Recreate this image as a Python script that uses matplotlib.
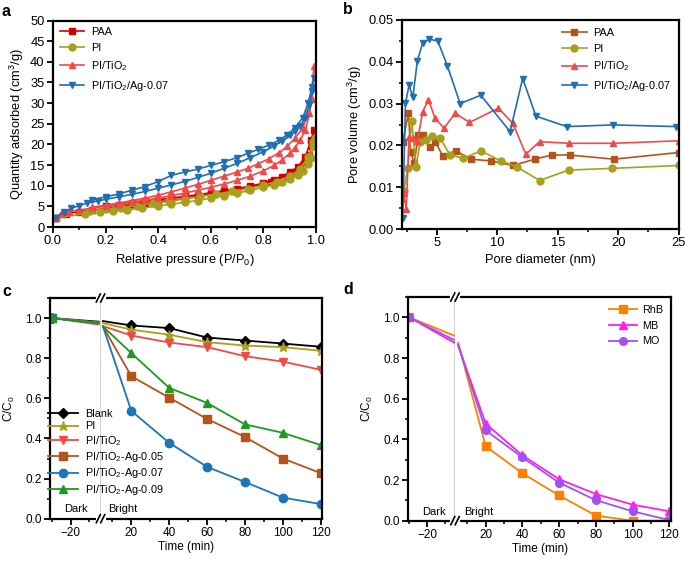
import matplotlib
matplotlib.use('Agg')
import matplotlib.pyplot as plt
from matplotlib.ticker import MultipleLocator, FormatStrFormatter
from matplotlib.lines import Line2D

plt.rcParams['font.family'] = ['Liberation Sans', 'DejaVu Sans']
plt.rcParams['mathtext.fontset'] = 'custom'
plt.rcParams['mathtext.rm'] = 'Liberation Sans'
plt.rcParams['mathtext.it'] = 'Liberation Sans:italic'
plt.rcParams['mathtext.bf'] = 'Liberation Sans:bold'

# ---------------- data: panel a (N2 isotherms, adsorption then desorption) ----------
paa_p = [0.01, 0.05, 0.1, 0.15, 0.2, 0.25, 0.3, 0.35, 0.4, 0.45, 0.5, 0.55, 0.6, 0.65, 0.7, 0.75, 0.8, 0.83,
         0.86, 0.89, 0.92, 0.94, 0.96, 0.975, 0.985, 0.993,
         0.98, 0.96, 0.93, 0.9, 0.87, 0.84, 0.8, 0.75, 0.7, 0.65, 0.6, 0.55, 0.5, 0.45, 0.4, 0.35, 0.3, 0.25, 0.2]
paa_v = [2.3, 3.2, 3.7, 4.1, 4.5, 4.9, 5.3, 5.7, 6.1, 6.5, 6.9, 7.4, 7.9, 8.4, 9.0, 9.6, 10.3, 10.8,
         11.4, 12.2, 13.2, 14.2, 15.8, 17.5, 19.5, 23.5,
         21.0, 17.0, 14.5, 13.2, 12.2, 11.4, 10.6, 9.9, 9.3, 8.8, 8.3, 7.8, 7.4, 7.0, 6.6, 6.2, 5.8, 5.4, 5.0]
pi_p = [0.01, 0.12, 0.18, 0.23, 0.28, 0.34, 0.4, 0.45, 0.5, 0.55, 0.6, 0.65, 0.7, 0.75, 0.8, 0.84, 0.87,
        0.9, 0.93, 0.95, 0.97, 0.98, 0.99, 0.995,
        0.99, 0.97, 0.94, 0.9, 0.85, 0.8, 0.74, 0.68, 0.62, 0.56, 0.5, 0.44, 0.38, 0.32, 0.26, 0.2, 0.14]
pi_v = [2.2, 3.2, 3.6, 3.9, 4.2, 4.6, 5.1, 5.5, 6.0, 6.4, 7.0, 7.6, 8.2, 8.9, 9.6, 10.2, 10.8,
        11.6, 12.6, 13.6, 15.3, 16.8, 19.5, 21.5,
        20.5, 17.0, 14.0, 12.3, 11.0, 10.1, 9.3, 8.6, 8.0, 7.4, 6.8, 6.2, 5.7, 5.2, 4.7, 4.3, 3.9]
tio2_p = [0.01, 0.03, 0.06, 0.1, 0.15, 0.2, 0.25, 0.3, 0.35, 0.4, 0.45, 0.5, 0.55, 0.6, 0.65, 0.7, 0.75, 0.8,
          0.84, 0.87, 0.9, 0.92, 0.94, 0.96, 0.975, 0.985, 0.993,
          0.985, 0.97, 0.95, 0.92, 0.89, 0.86, 0.82, 0.78, 0.74, 0.7, 0.65, 0.6, 0.55, 0.5, 0.45, 0.4, 0.35,
          0.3, 0.25, 0.2, 0.15]
tio2_v = [2.2, 3.2, 3.7, 4.1, 4.6, 5.0, 5.5, 6.0, 6.5, 7.0, 7.6, 8.2, 8.9, 9.6, 10.4, 11.3, 12.3, 13.6,
          14.9, 16.2, 17.8, 19.2, 21.0, 23.5, 27.5, 31.0, 39.0,
          34.0, 28.0, 24.0, 21.5, 19.5, 18.0, 16.5, 15.3, 14.2, 13.3, 12.3, 11.3, 10.3, 9.4, 8.5, 7.7, 7.0,
          6.4, 5.8, 5.3, 4.8]
ag_p = [0.01, 0.04, 0.07, 0.1, 0.13, 0.17, 0.2, 0.25, 0.3, 0.35, 0.4, 0.45, 0.5, 0.55, 0.6, 0.65, 0.7, 0.75,
        0.8, 0.84, 0.87, 0.9, 0.92, 0.94, 0.96, 0.975, 0.985, 0.993,
        0.985, 0.97, 0.95, 0.92, 0.89, 0.86, 0.82, 0.78, 0.74, 0.7, 0.65, 0.6, 0.55, 0.5, 0.45, 0.4, 0.35,
        0.3, 0.25, 0.2, 0.15]
ag_v = [2.3, 3.7, 4.5, 5.2, 5.8, 6.3, 6.7, 7.3, 7.9, 8.6, 9.4, 10.2, 11.0, 12.0, 13.0, 14.2, 15.4, 16.8,
        18.2, 19.6, 20.8, 22.2, 23.3, 24.5, 26.5, 29.5, 33.0, 36.0,
        34.0, 30.0, 26.5, 24.0, 22.3, 21.0, 19.8, 18.8, 17.8, 16.8, 15.8, 14.9, 14.0, 13.3, 12.5, 11.0, 9.8,
        8.9, 8.0, 7.3, 6.6]

# ---------------- data: panel b (pore size distribution) ----------------
paa_d = [2.19, 2.66, 2.85, 3.13, 3.48, 3.9, 4.45, 4.86, 5.5, 6.6, 7.8, 9.46, 11.3, 13.1, 14.5, 16.0, 19.65, 25.0]
paa_pv = [0.0209, 0.0277, 0.0185, 0.0157, 0.0226, 0.0225, 0.0195, 0.0209, 0.0175, 0.0187, 0.0167, 0.0163,
          0.0152, 0.0167, 0.0177, 0.0177, 0.0167, 0.0183]
pi_d = [2.25, 2.6, 2.93, 3.29, 3.62, 4.12, 4.64, 5.28, 6.1, 7.2, 8.64, 10.29, 11.6, 13.5, 15.9, 19.46, 25.0]
pi_pv = [0.009, 0.0145, 0.0259, 0.0149, 0.0209, 0.0213, 0.0222, 0.0217, 0.0177, 0.0169, 0.0187, 0.0163,
         0.0149, 0.0116, 0.0141, 0.0145, 0.0152]
tio2_d = [2.25, 2.47, 2.71, 3.02, 3.4, 3.84, 4.31, 4.86, 5.6, 6.52, 7.7, 10.1, 11.28, 12.36, 13.5, 15.96,
          19.6, 25.0]
tio2_pv = [0.0085, 0.0049, 0.0219, 0.0217, 0.0211, 0.0281, 0.0309, 0.0265, 0.0241, 0.0277, 0.0255, 0.0289,
           0.0253, 0.0179, 0.0209, 0.0205, 0.0205, 0.0211]
ag_d = [2.19, 2.41, 2.71, 3.02, 3.4, 3.84, 4.39, 5.08, 5.88, 6.93, 8.64, 11.06, 12.1, 13.2, 15.74, 19.6, 24.8]
ag_pv = [0.0026, 0.0301, 0.0344, 0.0315, 0.0403, 0.0446, 0.0454, 0.045, 0.039, 0.030, 0.032, 0.0233, 0.036,
         0.027, 0.0245, 0.0249, 0.0245]

# ---------------- data: panel c / d (photocatalysis) ----------------
t_dark = [-30, -5]
t_bright = [5, 20, 40, 60, 80, 100, 120]
c_labels = ['Blank', 'PI', 'PI/TiO$_2$', 'PI/TiO$_2$-Ag-0.05', 'PI/TiO$_2$-Ag-0.07', 'PI/TiO$_2$-Ag-0.09']
c_dark = [[1.0, 0.982], [1.0, 0.978], [1.0, 0.968], [1.0, 0.975], [1.0, 0.973], [1.0, 0.975]]
c_bright = [[0.985, 0.963, 0.950, 0.903, 0.888, 0.873, 0.857],
            [0.975, 0.942, 0.917, 0.880, 0.863, 0.855, 0.837],
            [0.960, 0.913, 0.878, 0.855, 0.810, 0.783, 0.742],
            [0.958, 0.710, 0.603, 0.497, 0.407, 0.300, 0.227],
            [0.958, 0.537, 0.378, 0.258, 0.183, 0.105, 0.073],
            [0.958, 0.825, 0.652, 0.577, 0.470, 0.428, 0.367]]
d_labels = ['RhB', 'MB', 'MO']
d_dark = [[1.0, 0.91], [1.0, 0.876], [1.0, 0.889]]
d_bright = [[0.875, 0.366, 0.233, 0.124, 0.025, 0.0, 0.0],
            [0.862, 0.477, 0.321, 0.204, 0.131, 0.079, 0.046],
            [0.866, 0.444, 0.311, 0.187, 0.101, 0.046, 0.003]]

# ---------------- figure ----------------
W, H = 685, 564
fig = plt.figure(figsize=(W / 100, H / 100), dpi=100)


def rect(l, r, t, b):
    return [l / W, 1 - b / H, (r - l) / W, (b - t) / H]


def style(ax, fs):
    for s in ax.spines.values():
        s.set_linewidth(1.6)
    ax.tick_params(which='major', direction='out', length=4, width=1.3, labelsize=fs,
                   top=False, right=False, pad=2)
    ax.tick_params(which='minor', direction='out', length=2.5, width=1.1, top=False, right=False)


FS_AB = 9.3
FS_CD = 8.5
FS_LEG = 7.8
RED = '#d40000'
OLIVE = '#a8a01c'
LRED = '#f44848'
BLUE = '#1f6fb4'
BROWN = '#b5541a'

# ---- panel a ----
ax = fig.add_axes(rect(53, 316, 20.5, 227))
style(ax, FS_AB)
kw = dict(lw=1.2, ms=5)
ax.plot(paa_p, paa_v, color=RED, marker='s', label='PAA', **kw)
ax.plot(pi_p, pi_v, color=OLIVE, marker='o', label='PI', **kw)
ax.plot(tio2_p, tio2_v, color=LRED, marker='^', label='PI/TiO$_2$', **kw)
ax.plot(ag_p, ag_v, color=BLUE, marker='v', label='PI/TiO$_2$/Ag-0.07', **kw)
ax.set_xlim(0, 1.0)
ax.set_ylim(0, 50)
ax.xaxis.set_major_locator(MultipleLocator(0.2))
ax.xaxis.set_minor_locator(MultipleLocator(0.1))
ax.xaxis.set_major_formatter(FormatStrFormatter('%.1f'))
ax.yaxis.set_major_locator(MultipleLocator(5))
ax.set_xlabel('Relative pressure (P/P$_0$)', fontsize=FS_AB, labelpad=3)
ax.set_ylabel('Quantity adsorbed (cm$^3$/g)', fontsize=FS_AB, labelpad=3)
ax.legend(loc='upper left', frameon=False, fontsize=FS_LEG, handlelength=2.3, labelspacing=0.55,
          borderaxespad=0.2, handletextpad=0.6)

# ---- panel b ----
ax = fig.add_axes(rect(401.7, 678.7, 20, 229))
style(ax, FS_AB)
ax.plot(paa_d, paa_pv, color=BROWN, marker='s', label='PAA', **kw)
ax.plot(pi_d, pi_pv, color=OLIVE, marker='o', label='PI', **kw)
ax.plot(tio2_d, tio2_pv, color=LRED, marker='^', label='PI/TiO$_2$', **kw)
ax.plot(ag_d, ag_pv, color=BLUE, marker='v', label='PI/TiO$_2$/Ag-0.07', **kw)
ax.set_xlim(2.1, 25)
ax.set_ylim(0, 0.05)
ax.xaxis.set_major_locator(MultipleLocator(5))
ax.xaxis.set_minor_locator(MultipleLocator(2.5))
ax.yaxis.set_major_locator(MultipleLocator(0.01))
ax.yaxis.set_minor_locator(MultipleLocator(0.005))
ax.yaxis.set_major_formatter(FormatStrFormatter('%.2f'))
ax.set_xlabel('Pore diameter (nm)', fontsize=FS_AB, labelpad=3)
ax.set_ylabel('Pore volume (cm$^3$/g)', fontsize=FS_AB, labelpad=3)
ax.legend(loc='upper right', frameon=False, fontsize=FS_LEG, handlelength=2.3, labelspacing=0.55,
          borderaxespad=0.3, handletextpad=0.6)


# ---- broken-axis helper ----
def broken(l, brk, r, t, b, xl_left, xl_right):
    al = fig.add_axes(rect(l, brk, t, b))
    ar = fig.add_axes(rect(brk, r, t, b))
    for a in (al, ar):
        style(a, FS_CD)
        a.set_ylim(0, 1.1)
        a.yaxis.set_major_locator(MultipleLocator(0.2))
        a.yaxis.set_minor_locator(MultipleLocator(0.1))
        a.yaxis.set_major_formatter(FormatStrFormatter('%.1f'))
        a.xaxis.set_major_locator(MultipleLocator(20))
        a.xaxis.set_minor_locator(MultipleLocator(10))
    al.set_xlim(*xl_left)
    ar.set_xlim(*xl_right)
    al.spines['right'].set_visible(False)
    ar.spines['left'].set_visible(False)
    ar.tick_params(which='both', left=False, labelleft=False)
    # grey separator
    al.plot([1, 1], [0, 1], transform=al.transAxes, color='#c4c4c4', lw=1.8, clip_on=False, zorder=1)
    # break marks
    bx = brk / W
    for yy in (1 - t / H, 1 - b / H):
        fig.add_artist(Line2D([bx - 3 / W, bx + 3 / W], [yy, yy], color='white', lw=3,
                              transform=fig.transFigure, zorder=10))
        for dx in (-2.2, 2.2):
            fig.add_artist(Line2D([bx + (dx - 2) / W, bx + (dx + 2) / W], [yy - 4 / H, yy + 4 / H],
                                  color='black', lw=1.2, transform=fig.transFigure, zorder=11))
    al.set_ylabel('C/C$_0$', fontsize=FS_CD, labelpad=6)
    ar.set_xlabel('Time (min)', fontsize=FS_CD, labelpad=3)
    ar.xaxis.set_label_coords(((l + r) / 2 - brk) / (r - brk), -0.1)
    return al, ar


# ---- panel c ----
cl, cr = broken(50, 100.5, 321.7, 298, 518.7, (-31, -4), (3.7, 120.5))
c_cols = ['black', OLIVE, LRED, BROWN, '#1a75bb', '#1e9a1e']
c_marks = ['D', '*', 'v', 's', 'o', '^']
c_ms = [5, 6.5, 6, 5.5, 6, 6]
handles = []
for lab, dv, bv, col, mk, ms in zip(c_labels, c_dark, c_bright, c_cols, c_marks, c_ms):
    cl.plot(t_dark, dv, color=col, marker=mk, ms=ms, lw=1.3, markevery=[0])
    h, = cr.plot(t_bright, bv, color=col, marker=mk, ms=ms, lw=1.3, markevery=list(range(1, 7)), label=lab)
    handles.append(h)
cr.legend(handles=handles, loc='upper left', bbox_to_anchor=(48 / W, 1 - 409 / H),
          bbox_transform=fig.transFigure, frameon=False, fontsize=FS_LEG, handlelength=2.8,
          labelspacing=0.22, borderaxespad=0, borderpad=0, handletextpad=0.6)
cl.text(-17, 0.05, 'Dark', ha='center', va='center', fontsize=8)
cr.text(15.6, 0.05, 'Bright', ha='center', va='center', fontsize=8)

# ---- panel d ----
dl, dr = broken(408.3, 455, 671, 297, 520.7, (-30.5, -4.5), (3.3, 120.9))
d_cols = ['#ff8000', '#ff1ef0', '#a450f0']
d_marks = ['s', '^', 'o']
handles = []
for lab, dv, bv, col, mk in zip(d_labels, d_dark, d_bright, d_cols, d_marks):
    dl.plot(t_dark, dv, color=col, marker=mk, ms=5.5, lw=1.3, markevery=[0])
    h, = dr.plot(t_bright, bv, color=col, marker=mk, ms=5.5, lw=1.3, markevery=list(range(1, 7)), label=lab)
    handles.append(h)
dr.legend(handles=handles, loc='upper right', frameon=False, fontsize=FS_LEG, handlelength=2.6,
          labelspacing=0.55, borderaxespad=0.3, handletextpad=0.5)
dl.text(-16.4, 0.043, 'Dark', ha='center', va='center', fontsize=8)
dr.text(16.5, 0.043, 'Bright', ha='center', va='center', fontsize=8)

# panel letters
for txt, x, y in [('a', 1, 11), ('b', 343, 10), ('c', 2, 291), ('d', 343, 290)]:
    fig.text(x / W, 1 - y / H, txt, fontsize=11.5, fontweight='bold', va='center', ha='left')

fig.savefig('out.png', dpi=100)
